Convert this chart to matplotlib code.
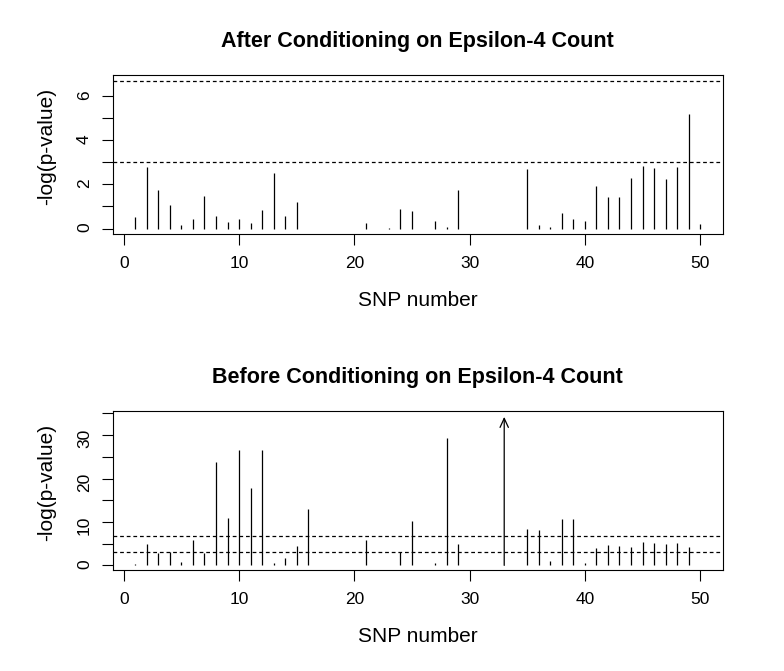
import numpy as np
import matplotlib.pyplot as plt

plt.rcParams['font.family'] = ['Liberation Sans', 'DejaVu Sans']

# -log(p) per SNP, after conditioning on epsilon-4 count
after_snp = [1, 2, 3, 4, 5, 6, 7, 8, 9, 10, 11, 12, 13, 14, 15,
             21, 23, 24, 25, 27, 28, 29,
             35, 36, 37, 38, 39, 40, 41, 42, 43, 44, 45, 46, 47, 48, 49, 50]
after_logp = [0.51, 2.78, 1.73, 1.07, 0.14, 0.45, 1.49, 0.56, 0.30, 0.45, 0.26, 0.83, 2.51, 0.59, 1.19,
              0.27, 0.02, 0.87, 0.78, 0.35, 0.08, 1.77,
              2.69, 0.17, 0.08, 0.72, 0.45, 0.35, 1.91, 1.43, 1.43, 2.28, 2.84, 2.73, 2.24, 2.79, 5.18, 0.20]

# -log(p) per SNP, before conditioning
before_snp = [1, 2, 3, 4, 5, 6, 7, 8, 9, 10, 11, 12, 13, 14, 15, 16,
              21, 24, 25, 27, 28, 29, 33,
              35, 36, 37, 38, 39, 40, 41, 42, 43, 44, 45, 46, 47, 48, 49]
before_logp = [0.29, 4.93, 2.85, 3.08, 0.77, 5.78, 2.85, 23.7, 10.95, 26.5, 17.9, 26.5, 0.46, 1.7, 4.4, 13.0,
               5.86, 3.1, 10.3, 0.46, 29.45, 4.93, 34.2,
               8.48, 8.25, 0.93, 10.7, 10.7, 0.6, 4.0, 4.7, 4.55, 4.16, 5.4, 5.17, 4.93, 5.17, 4.16]
arrow_snp = 33  # off-scale value, drawn as an arrow

threshold_lines = [3.0, 6.7]
n_snps = 50
x_ticks = [0, 10, 20, 30, 40, 50]

titles = ['After Conditioning on Epsilon-4 Count', 'Before Conditioning on Epsilon-4 Count']
xlabel = 'SNP number'
ylabel = '-log(p-value)'


def r_range(lo, hi):
    """Pad a range by 4% on each side, like R's default axis style."""
    d = (hi - lo) * 0.04
    return lo - d, hi + d


def draw_panel(ax, snp, logp, title, y_ticks, y_labels, y_range, arrow=None):
    snp = np.asarray(snp)
    logp = np.asarray(logp)
    keep = snp != arrow
    ax.vlines(snp[keep], 0, logp[keep], color='black', lw=0.9)
    if arrow is not None and arrow in snp:
        top = logp[snp == arrow][0]
        ax.annotate('', xy=(arrow, top), xytext=(arrow, 0),
                    arrowprops=dict(arrowstyle='->,head_length=0.65,head_width=0.3',
                                    lw=0.9, color='black', shrinkA=0, shrinkB=0))
    for h in threshold_lines:
        ax.axhline(h, color='black', lw=0.9, linestyle=(0, (3, 2.3)))

    ax.set_xlim(*r_range(1, n_snps))
    ax.set_ylim(*r_range(*y_range))
    ax.set_xticks(x_ticks)
    ax.set_yticks(y_ticks)
    ax.set_yticklabels(y_labels)
    ax.tick_params(direction='out', length=7.7, width=0.8, labelsize=12.5, colors='black')
    ax.tick_params(axis='x', pad=8.2)
    ax.tick_params(axis='y', pad=7.2, labelrotation=90)
    for s in ax.spines.values():
        s.set_linewidth(0.8)
        s.set_color('black')

    ax.set_title(title, fontsize=15.5, fontweight='bold', pad=20)
    ax.set_xlabel(xlabel, fontsize=15)
    ax.xaxis.set_label_coords(0.5, -0.36)
    ax.set_ylabel(ylabel, fontsize=15)
    ax.yaxis.set_label_coords(-0.093, 0.55)


fig = plt.figure(figsize=(7.84, 6.71), dpi=100)
ax1 = fig.add_axes([0.1438, 0.6513, 0.7781, 0.2370])
ax2 = fig.add_axes([0.1438, 0.1505, 0.7781, 0.2370])

top_ticks = list(range(0, 7))
top_labels = ['0', '', '2', '', '4', '', '6']
draw_panel(ax1, after_snp, after_logp, titles[0], top_ticks, top_labels,
           (min(after_logp + threshold_lines), max(after_logp + threshold_lines)))

bot_ticks = list(range(0, 36, 5))
bot_labels = ['0', '', '10', '', '20', '', '30', '']
draw_panel(ax2, before_snp, before_logp, titles[1], bot_ticks, bot_labels,
           (min(before_logp), max(before_logp)), arrow=arrow_snp)

fig.savefig('out.png', dpi=100)
